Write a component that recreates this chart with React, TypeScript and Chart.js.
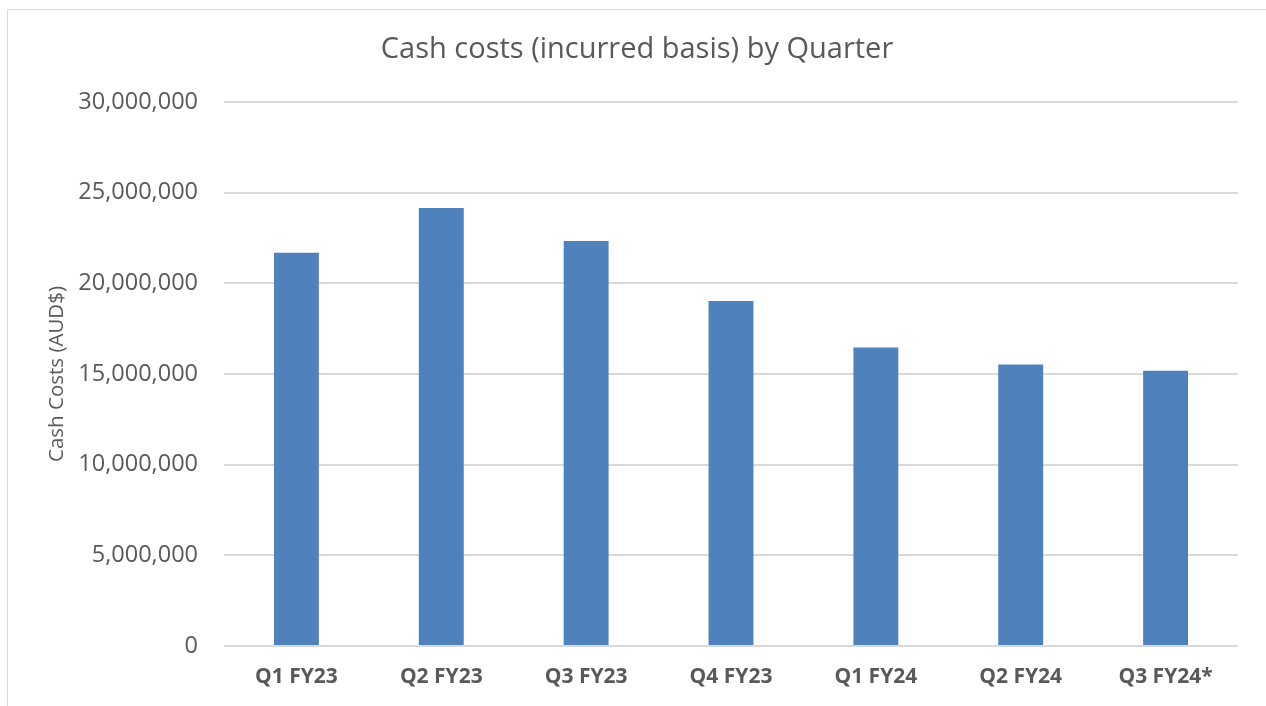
import React, { useEffect, useRef } from "react";
import { Chart, registerables } from "chart.js";

Chart.register(...registerables);

const categories = ["Q1 FY23", "Q2 FY23", "Q3 FY23", "Q4 FY23", "Q1 FY24", "Q2 FY24", "Q3 FY24*"];
const cashCosts = [21690000, 24150000, 22340000, 19030000, 16460000, 15530000, 15180000];
const yTicks = [0, 5000000, 10000000, 15000000, 20000000, 25000000, 30000000];

const TEXT = "#595959";
const FONT = "'Open Sans', 'Noto Sans', sans-serif";

export default function App() {
  const ref = useRef<HTMLCanvasElement | null>(null);
  useEffect(() => {
    if (!ref.current) return;
    const chart = new Chart(ref.current, {
      type: "bar",
      data: {
        labels: categories,
        datasets: [
          {
            label: "Cash Costs",
            data: cashCosts,
            backgroundColor: "#4F81BD",
            categoryPercentage: 1,
            barPercentage: 0.31,
          },
        ],
      },
      options: {
        animation: false,
        responsive: false,
        maintainAspectRatio: false,
        layout: { padding: { left: 36, right: 28, top: 0, bottom: 0 } },
        plugins: {
          legend: { display: false },
          tooltip: { enabled: false },
          title: {
            display: true,
            text: "Cash costs (incurred basis) by Quarter",
            color: TEXT,
            font: { family: FONT, size: 29, weight: "normal" },
            padding: { top: 32.6, bottom: 34.6 },
          },
        },
        scales: {
          x: {
            grid: { display: false, drawTicks: false },
            border: { display: false },
            ticks: {
              color: TEXT,
              font: { family: FONT, size: 21, weight: "bold" },
              padding: 18,
              maxRotation: 0,
              autoSkip: false,
            },
            afterFit: (scale: any) => {
              scale.height = 60;
            },
          },
          y: {
            min: 0,
            max: 30000000,
            grid: { color: "#d9d9d9", lineWidth: 2, drawTicks: false },
            border: { display: false },
            afterBuildTicks: (scale: any) => {
              scale.ticks = yTicks.map((v) => ({ value: v }));
            },
            ticks: {
              color: TEXT,
              font: { family: FONT, size: 23.5 },
              padding: 26,
              callback: (v: any) => Number(v).toLocaleString("en-US"),
            },
            title: {
              display: true,
              text: "Cash Costs (AUD$)",
              color: TEXT,
              font: { family: FONT, size: 20.5 },
              padding: { top: 8.7, bottom: 0 },
            },
            afterFit: (scale: any) => {
              scale.width = 188;
            },
          },
        },
      },
    });
    return () => chart.destroy();
  }, []);
  return (
    <div style={{ position: "fixed", left: 0, top: 0, width: 1266, height: 706, background: "#fff" }}>
      <canvas ref={ref} width={1266} height={706} style={{ position: "absolute", left: 0, top: 0 }} />
      <div
        style={{
          position: "absolute",
          left: 7,
          top: 9,
          width: 1280,
          height: 720,
          border: "1px solid #d9d9d9",
          boxSizing: "border-box",
          pointerEvents: "none",
        }}
      />
    </div>
  );
}
